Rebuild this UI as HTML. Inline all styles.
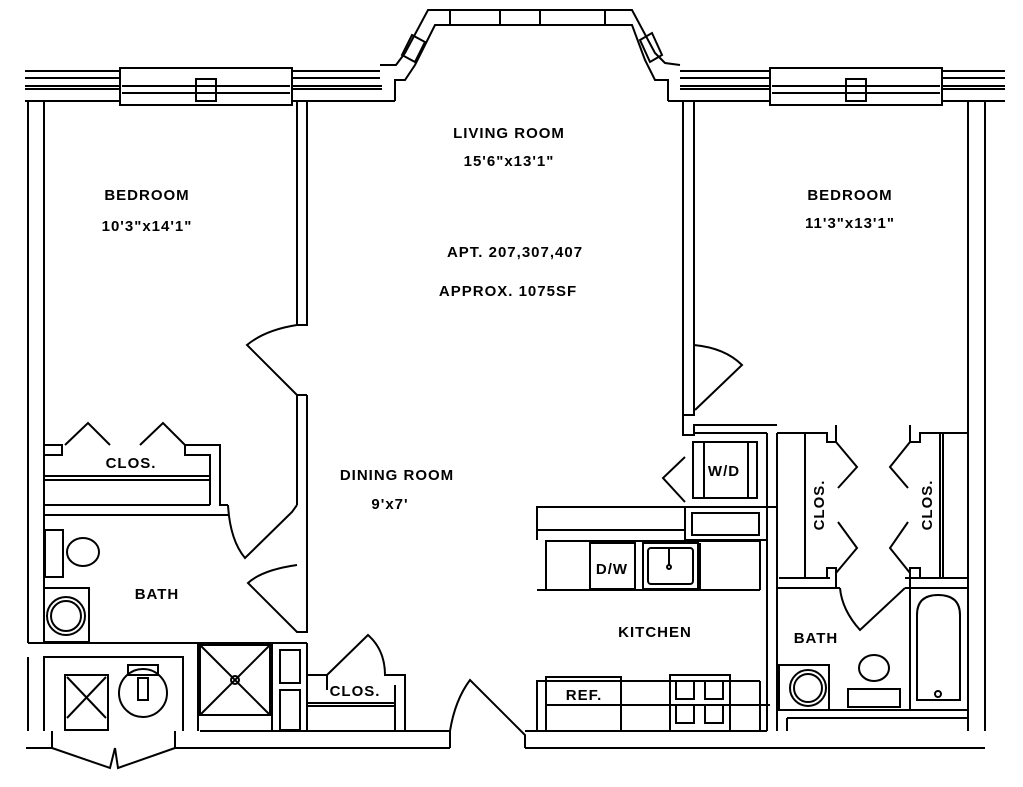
<!DOCTYPE html>
<html><head><meta charset="utf-8"><style>
html,body{margin:0;padding:0;background:#fff;}
svg{display:block;}
text{font-family:"Liberation Sans",sans-serif;font-weight:bold;font-size:15px;fill:#000;text-anchor:middle;letter-spacing:1px;}
</style></head><body>
<svg width="1023" height="787" viewBox="0 0 1023 787" xmlns="http://www.w3.org/2000/svg">
<g fill="none" stroke="#000" stroke-width="2">
<!-- top left exterior wall -->
<line x1="25" y1="71" x2="120" y2="71"/><line x1="25" y1="78" x2="120" y2="78"/>
<line x1="25" y1="86" x2="120" y2="86"/><line x1="25" y1="89" x2="120" y2="89"/>
<line x1="292" y1="71" x2="380" y2="71"/><line x1="292" y1="78" x2="380" y2="78"/>
<line x1="292" y1="86" x2="382" y2="86"/><line x1="292" y1="89" x2="382" y2="89"/>
<line x1="25" y1="101" x2="120" y2="101"/><line x1="292" y1="101" x2="395" y2="101"/>
<rect x="120" y="68" width="172" height="37"/>
<line x1="122" y1="86" x2="290" y2="86"/><line x1="122" y1="93" x2="290" y2="93"/>
<rect x="196" y="79" width="20" height="22"/>
<!-- bay -->
<polyline points="380,65 396,65 405,53 428,10 632,10 655,53 665,63 680,65"/>
<polyline points="395,101 395,80 405,80 415,65 435,25 632,25 645,60 655,80 668,80 668,101"/>
<rect x="450" y="10" width="50" height="15"/><rect x="540" y="10" width="65" height="15"/>
<polygon points="402,55 412,35 425,42 415,62"/><polygon points="640,40 652,33 662,55 650,62"/>
<!-- top right exterior -->
<line x1="668" y1="101" x2="770" y2="101"/><line x1="942" y1="101" x2="1005" y2="101"/>
<line x1="680" y1="71" x2="770" y2="71"/><line x1="680" y1="78" x2="770" y2="78"/>
<line x1="680" y1="86" x2="770" y2="86"/><line x1="680" y1="89" x2="770" y2="89"/>
<line x1="942" y1="71" x2="1005" y2="71"/><line x1="942" y1="78" x2="1005" y2="78"/>
<line x1="942" y1="86" x2="1005" y2="86"/><line x1="942" y1="89" x2="1005" y2="89"/>
<rect x="770" y="68" width="172" height="37"/>
<line x1="772" y1="86" x2="940" y2="86"/><line x1="772" y1="93" x2="940" y2="93"/>
<rect x="846" y="79" width="20" height="22"/>
<!-- left exterior walls -->
<line x1="28" y1="101" x2="28" y2="643"/><line x1="44" y1="101" x2="44" y2="643"/>
<line x1="28" y1="657" x2="28" y2="731"/>
<!-- left bedroom right wall -->
<polyline points="297,101 297,325 307,325 307,101"/>
<!-- bedroom door arc -->
<path d="M297,325 Q265,330 247,345 L297,395"/>
<polyline points="297,395 297,505"/><polyline points="307,395 307,565"/>
<polyline points="297,395 307,395"/>
<!-- closet -->
<polyline points="44,445 62,445 62,455 44,455"/>
<path d="M65,445 L88,423 L110,445"/><path d="M140,445 L163,423 L185,445"/>
<polyline points="185,445 185,455 210,455 210,505"/><polyline points="185,445 220,445 220,505 228,505"/>
<line x1="44" y1="476" x2="210" y2="476"/><line x1="44" y1="480" x2="210" y2="480"/>
<line x1="44" y1="505" x2="210" y2="505"/><line x1="44" y1="515" x2="228" y2="515"/>
<path d="M228,505 Q230,540 245,558 L292,512 L297,505"/>
<path d="M297,565 Q262,570 248,583 L297,632 L307,632 L307,565"/>
<!-- left bath -->
<rect x="45" y="530" width="18" height="47"/><ellipse cx="83" cy="552" rx="16" ry="14"/>
<rect x="44" y="588" width="45" height="54"/><circle cx="66" cy="616" r="19"/><circle cx="66" cy="616" r="15"/>
<line x1="28" y1="643" x2="307" y2="643"/>
<rect x="200" y="645" width="70" height="70"/><line x1="200" y1="645" x2="270" y2="715"/><line x1="270" y1="645" x2="200" y2="715"/>
<circle cx="235" cy="680" r="4"/>
<line x1="198" y1="643" x2="198" y2="731"/><line x1="272" y1="643" x2="272" y2="731"/>
<rect x="280" y="650" width="20" height="33"/><rect x="280" y="690" width="20" height="40"/>
<line x1="307" y1="643" x2="307" y2="731"/>
<!-- laundry -->
<polyline points="44,731 44,657 183,657 183,731"/>
<rect x="65" y="675" width="43" height="55"/><line x1="67" y1="677" x2="106" y2="718"/><line x1="106" y1="677" x2="67" y2="718"/>
<rect x="128" y="665" width="30" height="10"/><circle cx="143" cy="693" r="24"/><rect x="138" y="678" width="10" height="22"/>
<polyline points="52,731 52,748 110,768 115,748"/><polyline points="175,731 175,748 118,768 115,748"/>
<!-- bottom walls -->
<line x1="26" y1="748" x2="52" y2="748"/><line x1="175" y1="748" x2="450" y2="748"/>
<line x1="200" y1="731" x2="450" y2="731"/>
<!-- dining closet -->
<polyline points="307,675 327,675 327,690"/><path d="M327,675 L368,635 Q385,650 385,675 L405,675 L405,731"/>
<line x1="307" y1="703" x2="395" y2="703"/><line x1="307" y1="706" x2="395" y2="706"/>
<line x1="395" y1="685" x2="395" y2="731"/>
<!-- entry door -->
<path d="M450,748 L450,731 Q455,700 470,680 L525,735 L525,748"/>
<line x1="525" y1="748" x2="985" y2="748"/><line x1="525" y1="731" x2="767" y2="731"/>
<!-- right bedroom walls -->
<polyline points="683,101 683,415 694,415 694,101"/>
<path d="M694,345 Q725,348 742,365 L695,410"/>
<polyline points="683,415 683,435 694,435 694,425 777,425"/>
<line x1="694" y1="433" x2="767" y2="433"/>
<line x1="968" y1="101" x2="968" y2="731"/><line x1="985" y1="101" x2="985" y2="731"/>
<!-- W/D -->
<rect x="693" y="442" width="64" height="56"/><line x1="704" y1="442" x2="704" y2="498"/><line x1="748" y1="442" x2="748" y2="498"/>
<path d="M685,457 L663,478 L685,502"/>
<!-- kitchen counters -->
<polyline points="537,540 537,507 777,507"/><line x1="537" y1="530" x2="685" y2="530"/>
<polyline points="685,507 685,540 767,540"/><rect x="692" y="513" width="67" height="22"/>
<line x1="546" y1="540" x2="546" y2="590"/><line x1="537" y1="590" x2="760" y2="590"/>
<line x1="546" y1="541" x2="760" y2="541"/>
<rect x="590" y="543" width="45" height="46"/><rect x="643" y="543" width="55" height="46"/><rect x="648" y="548" width="45" height="36" rx="3"/>
<line x1="669" y1="548" x2="669" y2="565"/><circle cx="669" cy="567" r="2"/>
<line x1="700" y1="543" x2="700" y2="590"/><line x1="760" y1="541" x2="760" y2="590"/>
<line x1="767" y1="433" x2="767" y2="731"/><line x1="777" y1="433" x2="777" y2="731"/>
<!-- right closets -->
<polyline points="777,433 827,433 827,442 836,442 836,425"/>
<line x1="805" y1="433" x2="805" y2="578"/><line x1="779" y1="578" x2="830" y2="578"/>
<path d="M836,442 L857,467 L838,488"/><path d="M836,573 L857,548 L838,522"/>
<path d="M910,442 L890,467 L908,488"/><path d="M910,573 L890,548 L908,522"/>
<polyline points="910,425 910,442 920,442 920,433 968,433"/>
<line x1="943" y1="433" x2="943" y2="578"/><line x1="940" y1="433" x2="940" y2="578"/>
<line x1="777" y1="588" x2="840" y2="588"/><line x1="905" y1="578" x2="968" y2="578"/><line x1="905" y1="588" x2="968" y2="588"/>
<polyline points="827,578 827,568 836,568 836,588"/><polyline points="910,588 910,568 920,568 920,578"/>
<path d="M840,588 Q842,610 860,630 L905,588"/>
<!-- right bath -->
<line x1="910" y1="588" x2="910" y2="710"/>
<path d="M917,700 L917,615 Q917,595 938,595 Q960,595 960,615 L960,700 Z"/><circle cx="938" cy="694" r="3"/>
<rect x="779" y="665" width="50" height="45"/><circle cx="808" cy="688" r="18"/><circle cx="808" cy="688" r="14"/>
<ellipse cx="874" cy="668" rx="15" ry="13"/><rect x="848" y="689" width="52" height="18"/>
<line x1="777" y1="710" x2="968" y2="710"/><line x1="787" y1="718" x2="968" y2="718"/><line x1="787" y1="718" x2="787" y2="731"/>
<!-- bottom kitchen -->
<line x1="537" y1="680" x2="537" y2="731"/><line x1="537" y1="681" x2="760" y2="681"/>
<rect x="546" y="677" width="75" height="54"/><line x1="546" y1="705" x2="770" y2="705"/>
<line x1="760" y1="681" x2="760" y2="731"/>
<rect x="670" y="675" width="60" height="56"/>
<rect x="676" y="681" width="18" height="18"/><rect x="705" y="681" width="18" height="18"/>
<rect x="676" y="705" width="18" height="18"/><rect x="705" y="705" width="18" height="18"/>
</g>
<text x="509" y="138">LIVING ROOM</text>
<text x="509" y="166">15'6"x13'1"</text>
<text x="147" y="200">BEDROOM</text>
<text x="147" y="231">10'3"x14'1"</text>
<text x="515" y="257">APT. 207,307,407</text>
<text x="508" y="296">APPROX. 1075SF</text>
<text x="850" y="200">BEDROOM</text>
<text x="850" y="228">11'3"x13'1"</text>
<text x="131" y="468">CLOS.</text>
<text x="397" y="480">DINING ROOM</text>
<text x="390" y="509">9'x7'</text>
<text x="157" y="599">BATH</text>
<text x="355" y="696">CLOS.</text>
<text x="724" y="476">W/D</text>
<text x="612" y="574">D/W</text>
<text x="655" y="637">KITCHEN</text>
<text x="816" y="643">BATH</text>
<text x="584" y="700">REF.</text>
<text transform="translate(824,505) rotate(-90)">CLOS.</text>
<text transform="translate(932,505) rotate(-90)">CLOS.</text>
</svg>
</body></html>
